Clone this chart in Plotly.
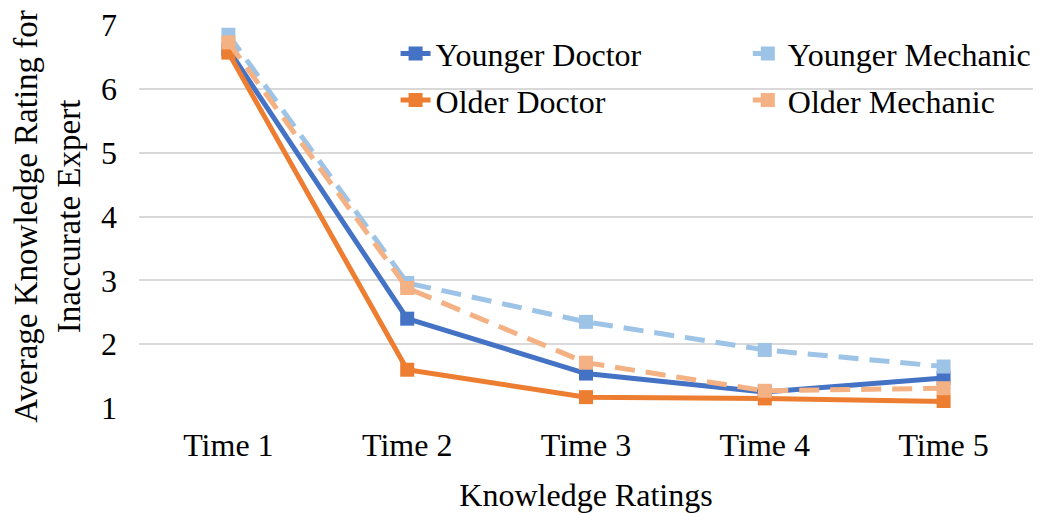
import plotly.graph_objects as go

categories = ["Time 1", "Time 2", "Time 3", "Time 4", "Time 5"]
younger_doctor = [6.62, 2.40, 1.54, 1.25, 1.47]
younger_mechanic = [6.85, 2.96, 2.35, 1.91, 1.65]
older_doctor = [6.57, 1.60, 1.17, 1.15, 1.10]
older_mechanic = [6.73, 2.88, 1.71, 1.27, 1.31]
y_ticks = [1, 2, 3, 4, 5, 6, 7]

FONT = "Liberation Serif"
fig = go.Figure()

def add(name, vals, color, dash, legend):
    fig.add_trace(go.Scatter(
        x=categories, y=vals, name=name, mode="lines+markers",
        line=dict(color=color, width=5, dash=dash),
        marker=dict(symbol="square", size=14, color=color),
        legend=legend, legendgroup=name,
    ))

add("Younger Doctor", younger_doctor, "#4472C4", "solid", "legend")
add("Younger Mechanic", younger_mechanic, "#9DC3E6", "20px,11px", "legend2")
add("Older Doctor", older_doctor, "#ED7D31", "solid", "legend")
add("Older Mechanic", older_mechanic, "#F4B183", "20px,11px", "legend2")

legend_common = dict(
    font=dict(family=FONT, size=32, color="black"),
    bgcolor="rgba(0,0,0,0)", yanchor="top", xanchor="left",
    orientation="v", traceorder="grouped", tracegroupgap=2,
)

fig.update_layout(
    width=1038, height=505,
    margin=dict(l=131, r=13, t=17, b=105, autoexpand=False),
    paper_bgcolor="white", plot_bgcolor="white",
    font=dict(family=FONT, size=32, color="black"),
    legend=dict(x=0.287, y=0.997, **legend_common),
    legend2=dict(x=0.681, y=0.997, **legend_common),
    xaxis=dict(
        type="category", range=[-0.5, 4.5], showgrid=False, zeroline=False,
        showline=False, ticks="", tickfont=dict(family=FONT, size=32),
        ticklabelstandoff=15,
        title=dict(text="Knowledge Ratings", font=dict(family=FONT, size=32), standoff=21),
        automargin=False,
    ),
    yaxis=dict(
        range=[1, 7.003], tickvals=y_ticks, showgrid=True, gridcolor="#D9D9D9", gridwidth=2,
        zeroline=False, showline=False, ticks="", ticklabeloverflow="allow",
        tickfont=dict(family=FONT, size=32), ticklabelstandoff=21,
        title=dict(text="Average Knowledge Rating for<br>Inaccurate Expert",
                   font=dict(family=FONT, size=33), standoff=14),
        automargin=False,
    ),
    showlegend=True,
)

fig.write_html("out.html")
